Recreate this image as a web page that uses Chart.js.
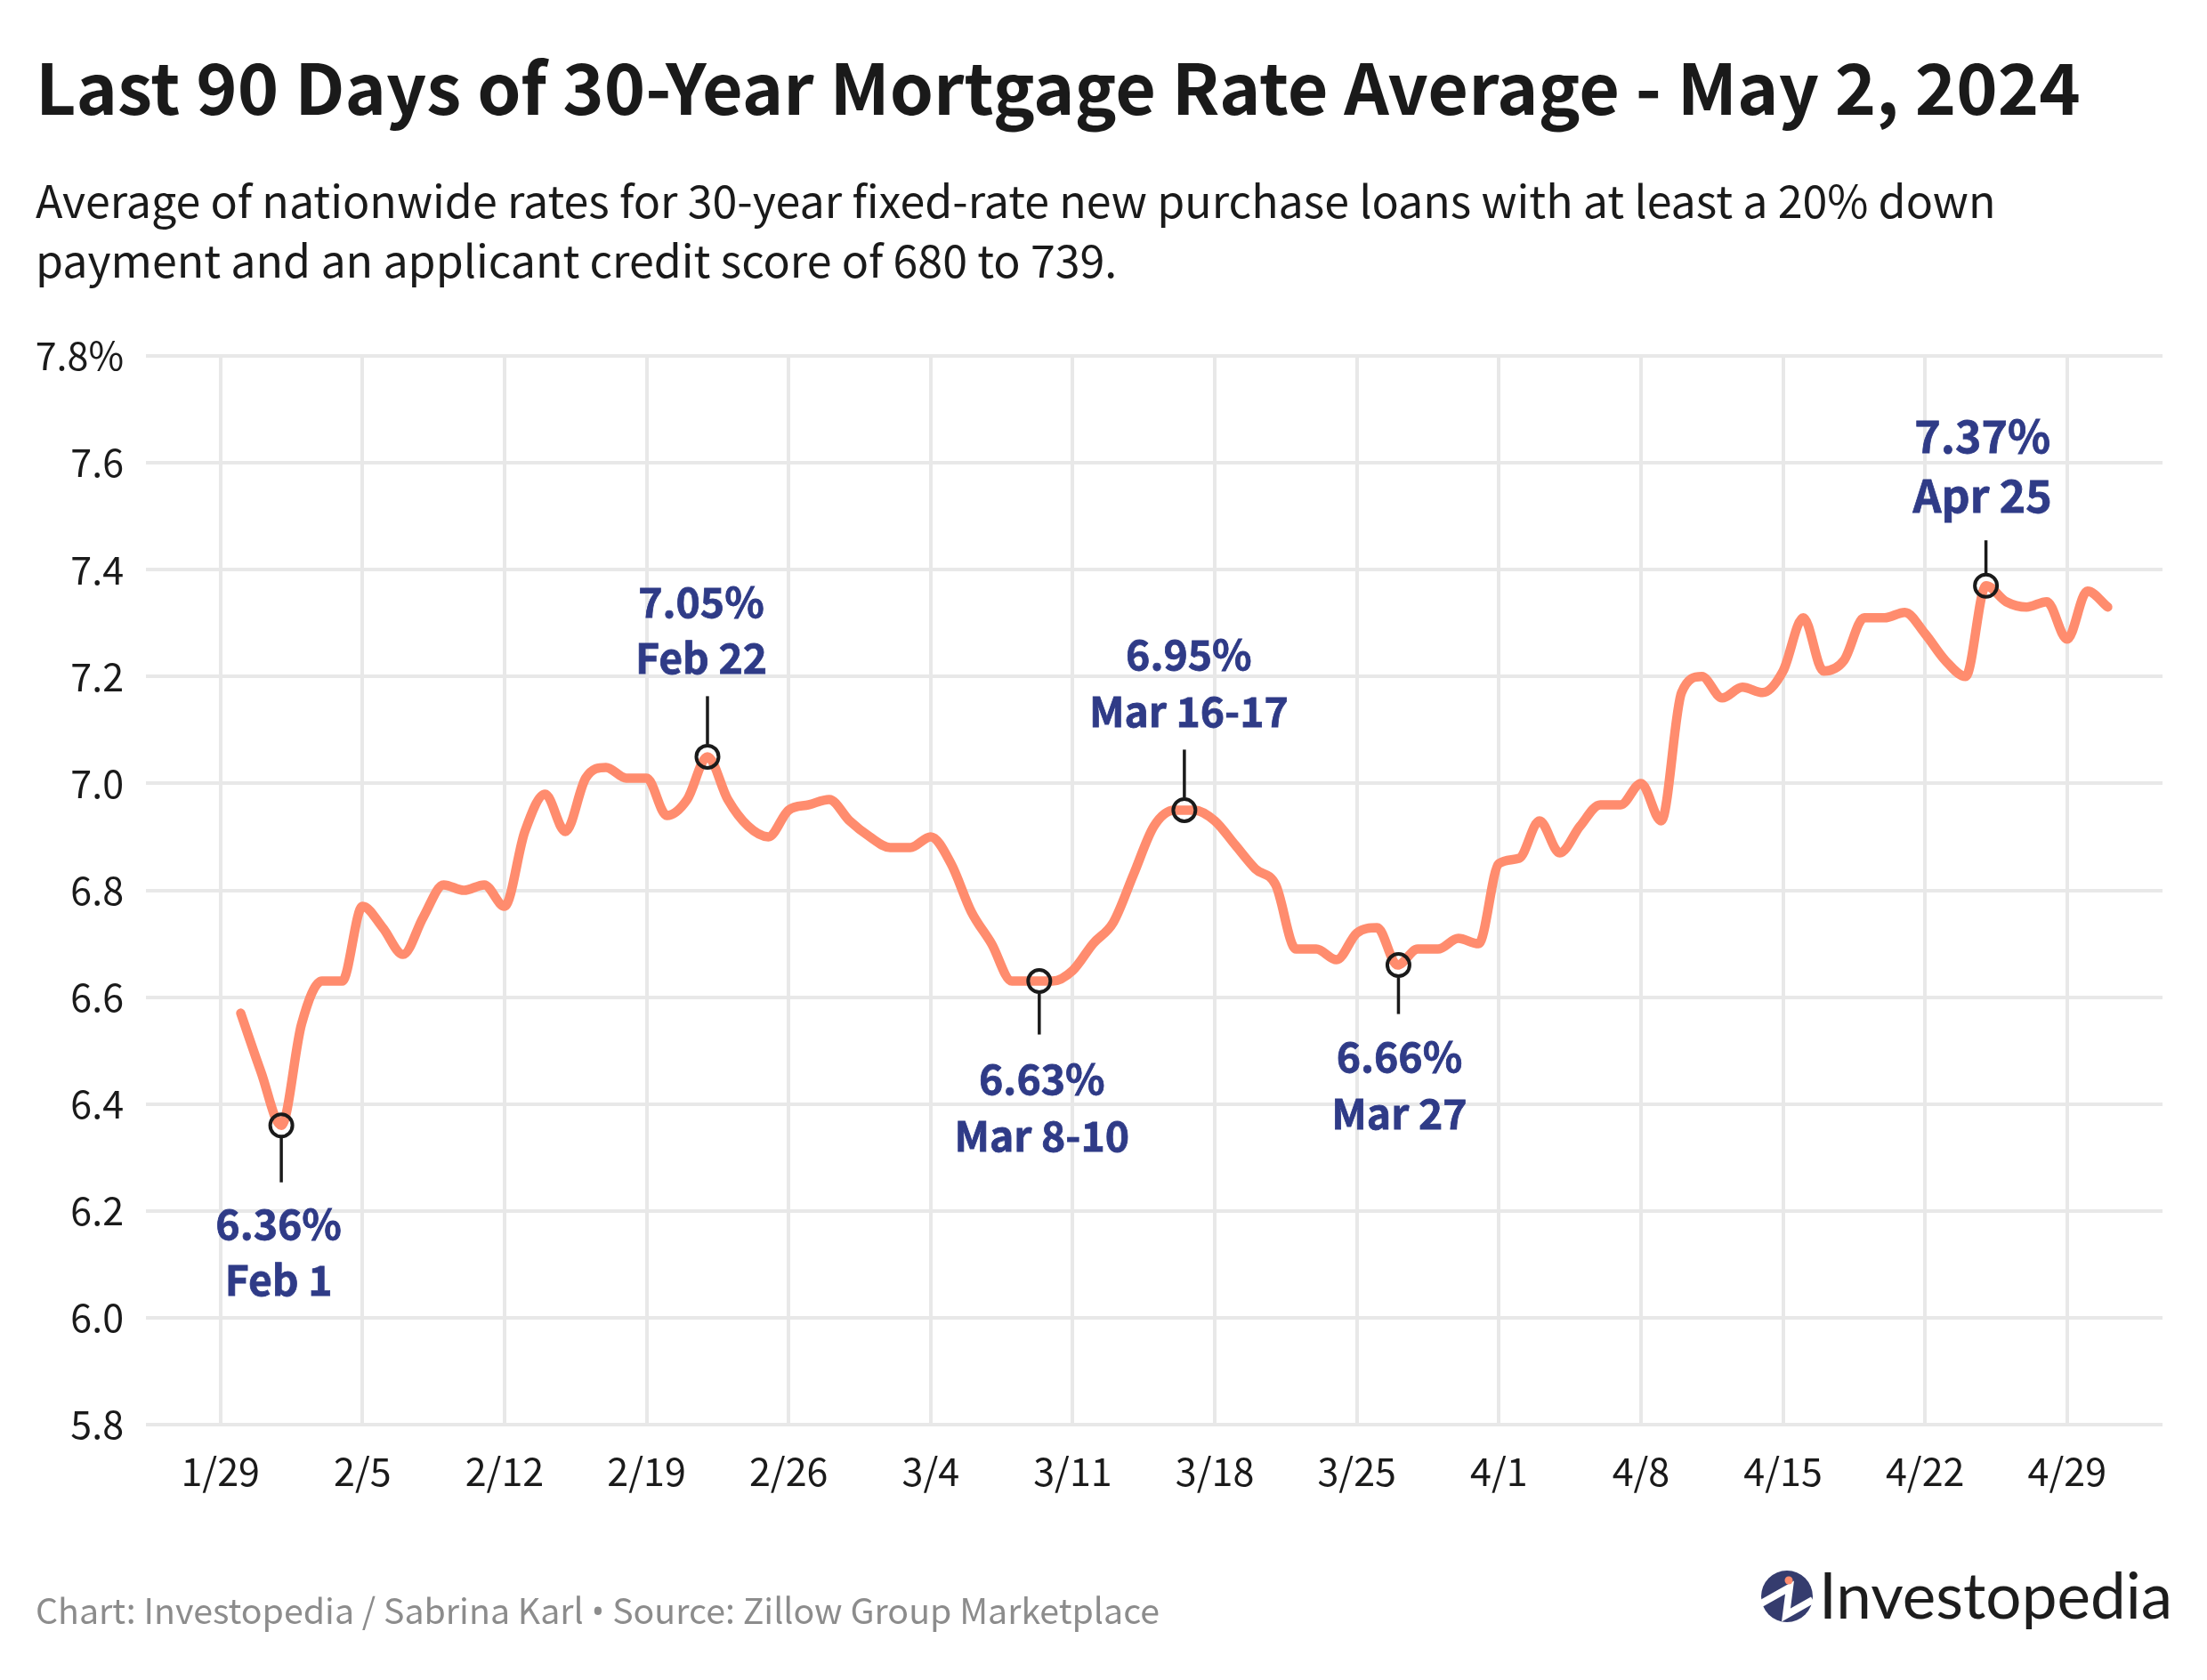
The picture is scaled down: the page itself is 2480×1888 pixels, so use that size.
<!DOCTYPE html>
<html>
<head>
<meta charset="utf-8">
<title>Last 90 Days of 30-Year Mortgage Rate Average</title>
<script src="https://cdn.jsdelivr.net/npm/chart.js@4"></script>
<style>
  html, body { margin: 0; padding: 0; background: #fff; }
  body { width: 2480px; height: 1888px; position: relative; overflow: hidden; font-family: "Noto Sans CJK SC", sans-serif; }
  canvas { position: absolute; left: 0; top: 0; }
  .txt { position: absolute; white-space: nowrap; }
  #title { left: 40px; top: 35px; font-size: 78.8px; line-height: 120px; font-weight: 700; color: #1a1a1a; }
  #sub { left: 40px; top: 190px; font-size: 50.1px; line-height: 67px; color: #1a1a1a; }
  #foot { left: 40px; top: 1778px; font-size: 39.3px; line-height: 60px; color: #8c8c8c; }
  #foot span { font-family: "Open Sans", sans-serif; }
  #logotext { left: 2044px; top: 1742px; font-family: Lato, sans-serif; font-size: 71px; line-height: 100px; color: #1d1d1d; }
  #logo { position: absolute; left: 1978px; top: 1764px; }
</style>
</head>
<body>
<canvas id="myChart" width="2480" height="1888"></canvas>
<div class="txt" id="title">Last 90 Days of 30-Year Mortgage Rate Average - May 2, 2024</div>
<div class="txt" id="sub">Average of nationwide rates for 30-year fixed-rate new purchase loans with at least a 20% down<br>payment and an applicant credit score of 680 to 739.</div>
<div class="txt" id="foot">Chart: Investopedia / Sabrina Karl <span>•</span> Source: Zillow Group Marketplace</div>
<svg id="logo" width="60" height="60" viewBox="0 0 60 60">
  <circle cx="30" cy="30" r="29" fill="#353c6e"/>
  <polyline points="1,38 33,20 29,51 59,34" fill="none" stroke="#fff" stroke-width="8"/>
  <circle cx="32" cy="12" r="4.5" fill="#ff8c6e"/>
</svg>
<div class="txt" id="logotext">Investopedia</div>

<script>
// days counted from 1/29, first point is 1/30 and last is 5/1
const rates = [
  6.57, 6.46, 6.36, 6.55, 6.63, 6.63, 6.77, 6.73, 6.68, 6.75,
  6.81, 6.80, 6.81, 6.77, 6.91, 6.98, 6.91, 7.01, 7.03, 7.01,
  7.01, 6.94, 6.97, 7.05, 6.97, 6.92, 6.90, 6.95, 6.96, 6.97,
  6.93, 6.90, 6.88, 6.88, 6.90, 6.85, 6.76, 6.70, 6.63, 6.63,
  6.63, 6.65, 6.70, 6.74, 6.83, 6.92, 6.95, 6.95, 6.93, 6.885,
  6.84, 6.81, 6.69, 6.69, 6.67, 6.72, 6.73, 6.66, 6.69, 6.69,
  6.71, 6.70, 6.85, 6.86, 6.93, 6.87, 6.92, 6.96, 6.96, 7.00,
  6.93, 7.17, 7.20, 7.16, 7.18, 7.17, 7.21, 7.31, 7.21, 7.23,
  7.31, 7.31, 7.32, 7.28, 7.23, 7.20, 7.37, 7.34, 7.33, 7.34,
  7.27, 7.36, 7.33
]
const weekLabels = ["1/29","2/5","2/12","2/19","2/26","3/4","3/11","3/18","3/25","4/1","4/8","4/15","4/22","4/29"]
const yTicks = [5.8, 6.0, 6.2, 6.4, 6.6, 6.8, 7.0, 7.2, 7.4, 7.6, 7.8]

const calloutDays = [3, 24, 40.35, 47.5, 58.05, 87]
const calloutRates = [6.36, 7.05, 6.63, 6.95, 6.66, 7.37]
const calloutValues = ["6.36%", "7.05%", "6.63%", "6.95%", "6.66%", "7.37%"]
const calloutDates = ["Feb 1", "Feb 22", "Mar 8-10", "Mar 16-17", "Mar 27", "Apr 25"]

// how each callout sits around its marker: side, leader length, label shift, text distances, text size
const calloutLayout = [
  { side: 1, leader: 64, dx: -3, valueGap: 111, dateGap: 174, size: 46.3 },
  { side: -1, leader: 68, dx: -7, valueGap: 174, dateGap: 111, size: 46.3 },
  { side: 1, leader: 60, dx: 3, valueGap: 110, dateGap: 174, size: 46.3 },
  { side: -1, leader: 68, dx: 5, valueGap: 175, dateGap: 111, size: 46.3 },
  { side: 1, leader: 55, dx: 1, valueGap: 103, dateGap: 167, size: 46.3 },
  { side: -1, leader: 51, dx: -4, valueGap: 168, dateGap: 101, size: 50 }
]

const FONT = '"Noto Sans CJK SC", sans-serif'

const callouts = {
  id: "callouts",
  afterDatasetsDraw(chart) {
    const ctx = chart.ctx
    const xs = chart.scales.x
    const ys = chart.scales.y
    ctx.save()
    ctx.textAlign = "center"
    ctx.textBaseline = "middle"
    calloutDays.forEach((day, i) => {
      const l = calloutLayout[i]
      const px = xs.getPixelForValue(day)
      const py = ys.getPixelForValue(calloutRates[i])
      ctx.strokeStyle = "#1a1a1a"
      ctx.lineWidth = 3.5
      ctx.beginPath()
      ctx.moveTo(px, py + l.side * 14)
      ctx.lineTo(px, py + l.side * l.leader)
      ctx.stroke()

      ctx.fillStyle = "#2f3b87"
      ctx.strokeStyle = "#2f3b87"
      ctx.lineWidth = 0.8
      ctx.font = "700 " + l.size + "px " + FONT
      ctx.fillText(calloutValues[i], px + l.dx, py + l.side * l.valueGap)
      ctx.strokeText(calloutValues[i], px + l.dx, py + l.side * l.valueGap)
      ctx.fillText(calloutDates[i], px + l.dx, py + l.side * l.dateGap)
      ctx.strokeText(calloutDates[i], px + l.dx, py + l.side * l.dateGap)
    })
    ctx.restore()
  }
}

new Chart(document.getElementById("myChart"), {
  type: "line",
  data: {
    datasets: [
      {
        data: calloutDays.map((d, i) => ({ x: d, y: calloutRates[i] })),
        showLine: false,
        pointRadius: 12.5,
        pointHoverRadius: 12.5,
        pointBackgroundColor: "rgba(0,0,0,0)",
        pointBorderColor: "#1a1a1a",
        pointBorderWidth: 4,
        order: 0
      },
      {
        data: rates.map((r, i) => ({ x: i + 1, y: r })),
        borderColor: "#ff8c6e",
        borderWidth: 10.5,
        borderCapStyle: "round",
        borderJoinStyle: "round",
        cubicInterpolationMode: "monotone",
        pointRadius: 0,
        order: 1
      }
    ]
  },
  plugins: [callouts],
  options: {
    responsive: false,
    devicePixelRatio: 1,
    animation: false,
    layout: { padding: { top: 400, left: 0, right: 50, bottom: 187 } },
    plugins: {
      legend: { display: false },
      tooltip: { enabled: false }
    },
    scales: {
      x: {
        type: "linear",
        min: -3.67,
        max: 95.7,
        afterBuildTicks(scale) {
          scale.ticks = weekLabels.map((l, i) => ({ value: i * 7 }))
        },
        afterFit(scale) {
          scale.height = 100
          scale.paddingLeft = 0
          scale.paddingRight = 0
        },
        border: { display: false },
        grid: { color: "#e8e8e8", lineWidth: 4, drawTicks: false },
        ticks: {
          autoSkip: false,
          maxRotation: 0,
          padding: 27,
          color: "#1a1a1a",
          font: { family: FONT, size: 43 },
          callback: (v, i) => weekLabels[i]
        }
      },
      y: {
        min: 5.8,
        max: 7.8,
        afterBuildTicks(scale) {
          scale.ticks = yTicks.map((v) => ({ value: v }))
        },
        afterFit(scale) {
          scale.width = 164
          scale.paddingTop = 0
          scale.paddingBottom = 0
        },
        border: { display: false },
        grid: { color: "#e8e8e8", lineWidth: 4, drawTicks: false },
        ticks: {
          padding: 25,
          color: "#1a1a1a",
          font: { family: FONT, size: 43 },
          callback: (v, i) => (v === 7.8 ? "7.8%" : v.toFixed(1))
        }
      }
    }
  }
})
</script>
</body>
</html>
